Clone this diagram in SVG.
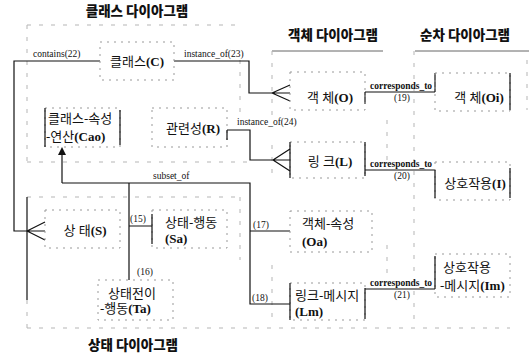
<svg xmlns="http://www.w3.org/2000/svg" width="529" height="360" viewBox="0 0 529 360">
<defs>
<style>
.t{font-family:"Liberation Serif","Noto Sans CJK KR",serif;font-size:13px;fill:#111}
.b{font-weight:bold}
.h{font-family:"Noto Sans CJK KR",sans-serif;font-size:13.5px;font-weight:900;fill:#111}
.s{font-family:"Liberation Serif",serif;font-size:9.5px;fill:#111}
.c{text-anchor:middle}
.ln{stroke:#111;stroke-width:1.2;fill:none}
.db{stroke:#999;stroke-width:1;stroke-dasharray:2 5;fill:none}
.rg{stroke:#b5b5b5;stroke-width:1;stroke-dasharray:4 8;fill:none}
.ul{stroke:#666;stroke-width:1;fill:none}
</style>
<marker id="ah" markerWidth="8" markerHeight="8" refX="4" refY="4" orient="auto" markerUnits="userSpaceOnUse">
<path d="M0,0 L8,4 L0,8 z" fill="#111"/>
</marker>
</defs>
<rect width="529" height="360" fill="#fff"/>

<g id="regions">
<text class="h c" x="137" y="16">클래스 다이아그램</text>
<text class="h c" x="333" y="40">객체 다이아그램</text>
<text class="h c" x="465" y="40">순차 다이아그램</text>
<text class="h c" x="133" y="350">상태 다이아그램</text>
<path class="rg" d="M27,25 H236 M27,25 V162 M27,162 H250 M240,60 V120"/>
<path class="rg" d="M27,197 H240 M240,197 V260 M27,300 V330 M27,328 H510"/>
<path class="ln" d="M27,197 V300"/>
<path class="ul" d="M272,51 H383 M415,51 H529"/>
<path class="rg" d="M272,51 V120 M272,145 V175 M272,265 V320 M387,120 V165 M387,245 V275 M414,51 V320 M527,60 V110"/>
</g>

<g id="connectors">
<path class="ln" d="M100,61 H14 V231 H27"/>
<path class="ln" d="M27,231 L45,222 M27,231 H45 M27,231 L45,240"/>
<text class="s" x="33" y="57">contains(22)</text>
<path class="ln" d="M174,61 H249 V93 H272"/>
<path class="ln" d="M272,93 L290,85 M272,93 H290 M272,93 L290,101"/>
<text class="s" x="184" y="57">instance_of(23)</text>
<path class="ln" d="M227,130 H250 V160 H273"/>
<path class="ln" d="M273,160 L290,149 M273,160 H290 M273,160 L290,171"/>
<text class="s" x="237" y="125">instance_of(24)</text>
<path class="ln" d="M62,183 V151" marker-end="url(#ah)"/>
<path class="ln" d="M62,183 H250 V304 H290 M250,231 H290 M129,183 V280 M129,226 H152"/>
<text class="s" x="153" y="179">subset_of</text>
<text class="s" x="130" y="222">(15)</text>
<text class="s" x="137" y="275">(16)</text>
<text class="s" x="253" y="228">(17)</text>
<text class="s" x="252" y="301">(18)</text>
<path class="ln" d="M365,92 H435 M365,92 V104 M435,73 V92"/>
<text class="s b" x="370" y="89">corresponds_to</text>
<text class="s" x="394" y="101">(19)</text>
<path class="ln" d="M365,170 H435"/>
<text class="s b" x="370" y="167">corresponds_to</text>
<text class="s" x="394" y="179">(20)</text>
<path class="ln" d="M365,289 H435"/>
<text class="s b" x="370" y="286">corresponds_to</text>
<text class="s" x="394" y="298">(21)</text>
</g>

<g id="C">
<rect class="db" x="100" y="42" width="74" height="38"/>
<text class="t c" x="137" y="66">클래스<tspan class="b">(C)</tspan></text>
</g>
<g id="Cao">
<rect class="db" x="45" y="108" width="75" height="39"/>
<path class="ln" d="M45,108 V147 M120,110 V145"/>
<text class="t" x="48" y="123">클래스-속성</text>
<text class="t" x="46" y="141">-연산<tspan class="b">(Cao)</tspan></text>
</g>
<g id="R">
<rect class="db" x="152" y="108" width="75" height="39"/>
<path class="ln" d="M227,130 V140"/>
<text class="t c" x="193" y="133">관련성<tspan class="b">(R)</tspan></text>
</g>
<g id="O">
<rect class="db" x="290" y="72" width="75" height="38"/>
<text class="t c" x="330" y="102">객 체<tspan class="b">(O)</tspan></text>
</g>
<g id="Oi">
<rect class="db" x="435" y="73" width="75" height="38"/>
<path class="ln" d="M510,73 V110"/>
<text class="t c" x="479" y="102">객 체<tspan class="b">(Oi)</tspan></text>
</g>
<g id="L">
<rect class="db" x="290" y="142" width="75" height="36"/>
<path class="ln" d="M290,142 V178 M365,142 V176"/>
<text class="t c" x="330" y="166">링 크<tspan class="b">(L)</tspan></text>
</g>
<g id="I">
<rect class="db" x="435" y="162" width="75" height="38"/>
<path class="ln" d="M435,170 V198 M510,168 V198"/>
<text class="t c" x="475" y="188">상호작용<tspan class="b">(I)</tspan></text>
</g>
<g id="S">
<rect class="db" x="45" y="210" width="75" height="38"/>
<text class="t c" x="85" y="235">상 태<tspan class="b">(S)</tspan></text>
</g>
<g id="Sa">
<rect class="db" x="152" y="210" width="75" height="38"/>
<path class="ln" d="M152,214 V244"/>
<text class="t" x="165" y="227">상태-행동</text>
<text class="t b" x="165" y="243">(Sa)</text>
</g>
<g id="Ta">
<rect class="db" x="98" y="280" width="75" height="40"/>
<text class="t" x="108" y="298">상태전이</text>
<text class="t" x="100" y="313">-행동<tspan class="b">(Ta)</tspan></text>
</g>
<g id="Oa">
<rect class="db" x="290" y="211" width="82" height="41"/>
<text class="t" x="302" y="228">객체-속성</text>
<text class="t b" x="302" y="246">(Oa)</text>
</g>
<g id="Lm">
<rect class="db" x="290" y="283" width="75" height="37"/>
<path class="ln" d="M290,283 V320 M365,288 V319"/>
<text class="t" x="295" y="300">링크-메시지</text>
<text class="t b" x="295" y="316">(Lm)</text>
</g>
<g id="Im">
<rect class="db" x="435" y="254" width="75" height="43"/>
<path class="ln" d="M435,256 V289"/>
<text class="t" x="443" y="272">상호작용</text>
<text class="t" x="440" y="290">-메시지<tspan class="b">(Im)</tspan></text>
</g>
</svg>
